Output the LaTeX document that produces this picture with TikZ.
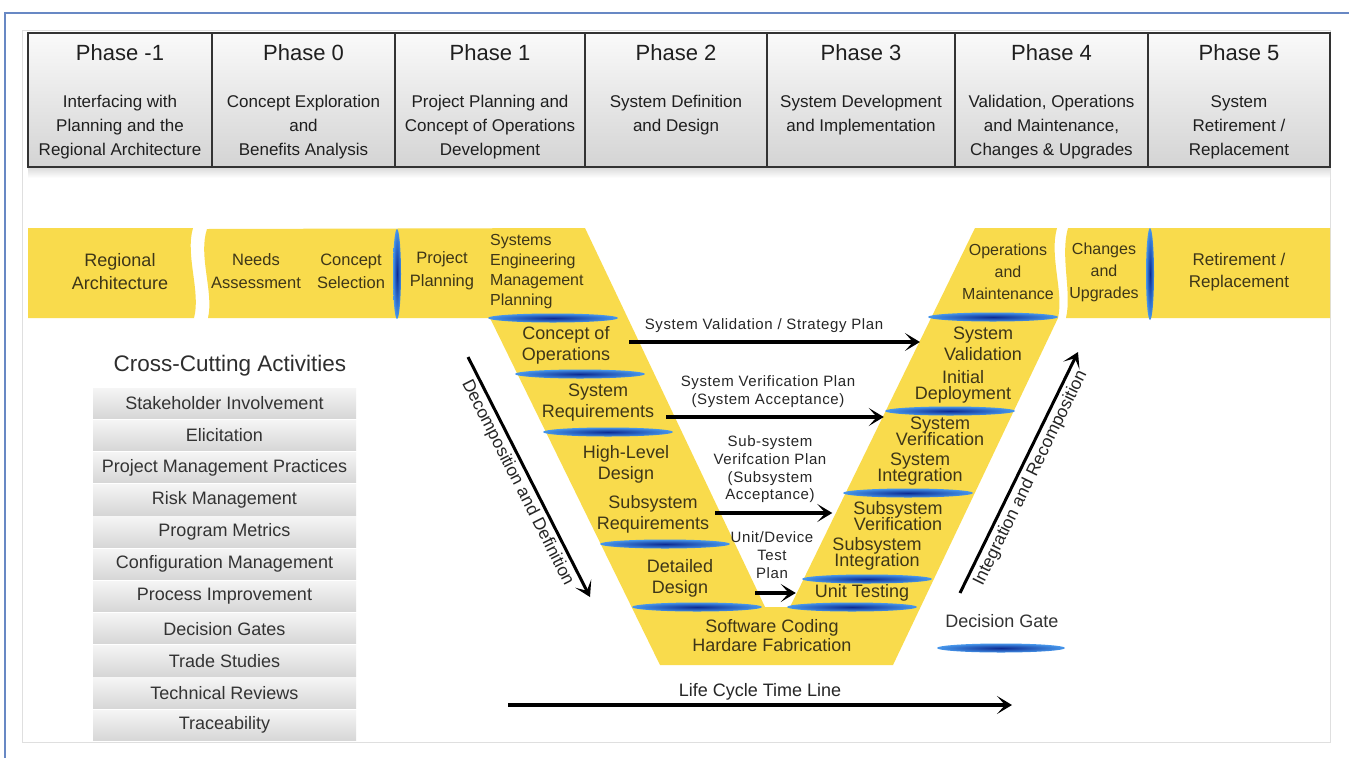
\documentclass[tikz,border=0pt]{standalone}
\usepackage{fontspec}
\setmainfont{Liberation Sans}
\newfontfamily\planfont[LetterSpace=4]{Liberation Sans}
\usetikzlibrary{arrows.meta}
\definecolor{vyellow}{RGB}{249,219,76}
\definecolor{vbrown}{RGB}{62,54,24}
\definecolor{frameblue}{RGB}{104,136,196}
\definecolor{gatedark}{RGB}{12,42,145}
\definecolor{gatelight}{RGB}{70,150,235}
\newcommand\tightlines{\lineskiplimit -20pt\relax}
\tikzset{
  phasebox/.style={draw=black!80,line width=1.8pt,top color=gray!4,bottom color=gray!34},
  phasetitle/.style={text=black!88,font=\fontsize{22}{26}\selectfont,inner sep=0pt,anchor=base},
  phasedesc/.style={text=black!88,align=center,font=\fontsize{17}{24}\selectfont,inner sep=0pt,anchor=north},
  bandtext/.style={text=vbrown,align=center,font=\fontsize{16.5}{23}\selectfont,inner sep=1pt},
  vtext/.style={text=vbrown,align=center,font=\fontsize{18}{21}\selectfont,inner sep=2pt},
  vtight/.style={vtext,font={\fontsize{18}{16}\selectfont\tightlines}},
  plantext/.style={text=black!85,align=center,font=\planfont\fontsize{15}{17.7}\selectfont,inner sep=1pt},
  flow/.style={line width=3.4pt,-{Stealth[length=15pt,width=18pt,inset=8pt]}},
  gate/.style={shading=radial,inner color=gatedark,outer color=gatelight},
  ccbox/.style={top color=gray!8,bottom color=gray!32},
  cctext/.style={text=black!80,font=\fontsize{18}{20}\selectfont,inner sep=0pt}
}
\begin{document}
\begin{tikzpicture}[x=1pt,y=-1pt]
  \useasboundingbox (0,0) rectangle (1349,758);
  \fill[white] (0,0) rectangle (1349,758);
  \draw[frameblue,line width=1.5pt] (1349,13) -- (5,13) -- (5,758);
  \draw[gray!25,line width=0.8pt] (22,30) rectangle (1330,742);
  % phases
  \shade[top color=gray!30,bottom color=white] (28,167) rectangle (1330,178);
  \foreach \xl/\xr/\ph/\desc [count=\n] in {
    28/212/-1/{Interfacing with\\Planning and the\\Regional Architecture},
    212/395/0/{Concept Exploration\\and\\Benefits Analysis},
    395/585/1/{Project Planning and\\Concept of Operations\\Development},
    585/767/2/{System Definition\\and Design},
    767/955/3/{System Development\\and Implementation},
    955/1148/4/{Validation, Operations\\and Maintenance,\\Changes \& Upgrades},
    1148/1330/5/{System\\Retirement /\\Replacement}}{
    \draw[phasebox] (\xl,33) rectangle (\xr,167);
    \node[phasetitle] (ph\n) at ({(\xl+\xr)/2},60) {Phase \ph};
    \node[phasedesc] (pd\n) at ({(\xl+\xr)/2},95) {\desc};
  }
  % yellow band and V
  \fill[vyellow] (28,228) -- (193,228) .. controls (185,255) and (201,292) .. (194,318) -- (28,318) -- cycle;
  \fill[vyellow] (207,229) -- (585,228) -- (765,607) -- (790,607) -- (975,228) -- (1057,228)
    .. controls (1049,256) and (1064,292) .. (1058,318) -- (893,665) -- (660,665) -- (490,318) -- (208,318)
    .. controls (214,292) and (198,256) .. (207,229) -- cycle;
  \fill[vyellow] (1068,228) -- (1330,228) -- (1330,318) -- (1066,318) .. controls (1072,292) and (1060,256) .. (1068,228) -- cycle;
  % decision gates
  \foreach \gx/\gy in {553/318, 580/374, 608/432, 665/544, 697/607, 852/607, 867/579, 908/493, 950/411, 993/317}
    \shade[gate] (\gx,\gy) ellipse [x radius=65, y radius=4.5];
  \shade[gate] (397,274) ellipse [x radius=4, y radius=45];
  \shade[gate] (1150,274) ellipse [x radius=4, y radius=46];
  \shade[gate] (1001,648) ellipse [x radius=64, y radius=4.5];
  \node[bandtext,font=\fontsize{18}{23}\selectfont] (regarch) at (120,272) {Regional\\Architecture};
  \node[bandtext] (needs) at (256,271) {Needs\\Assessment};
  \node[bandtext] (csel) at (351,271) {Concept\\Selection};
  \node[bandtext] (pplan) at (442,271) {Project\\Planning};
  \node[bandtext,align=left,anchor=west,font=\fontsize{16}{20}\selectfont] (semp) at (489,272) {Systems\\Engineering\\Management\\Planning};
  \node[vtext] (conops) at (566,345) {Concept of\\Operations};
  \node[vtext] (sysreq) at (598,403) {System\\Requirements};
  \node[vtext] (hld) at (626,464) {High-Level\\Design};
  \node[vtext] (subreq) at (653,514) {Subsystem\\Requirements};
  \node[vtext] (detdes) at (680,578) {Detailed\\Design};
  \node[vtext,font=\fontsize{18}{19}\selectfont] (coding) at (772,636) {Software Coding\\Hardare Fabrication};
  \node[vtext] (unittest) at (862,593) {Unit Testing};
  \node[vtight] (subint) at (877,554) {Subsystem\\Integration};
  \node[vtight] (subver) at (898,516) {Subsystem\\Verification};
  \node[vtight] (sysint) at (920,469) {System\\Integration};
  \node[vtight] (sysver) at (940,431) {System\\Verification};
  \node[vtight] (initdep) at (963,387) {Initial\\Deployment};
  \node[vtext] (sysval) at (983,344) {System\\Validation};
  \node[bandtext,font=\fontsize{16}{22}\selectfont] (opsmaint) at (1008,272) {Operations\\and\\Maintenance};
  \node[bandtext,font=\fontsize{16}{22}\selectfont] (changes) at (1104,272) {Changes\\and\\Upgrades};
  \node[bandtext,font=\fontsize{17}{22}\selectfont] (retire) at (1239,272) {Retirement /\\Replacement};
  % plans across the V
  \node[plantext] (valplan) at (764,326) {System Validation / Strategy Plan};
  \node[plantext] (verplan) at (768,391.5) {System Verification Plan\\(System Acceptance)};
  \node[plantext] (subplan) at (770,469.5) {Sub-system\\Verifcation Plan\\(Subsystem\\Acceptance)};
  \node[plantext] (unitplan) at (772,555) {Unit/Device\\Test\\Plan};
  \draw[flow,shorten <=17pt,shorten >=22pt] (conops.east |- 0,342) -- (sysval.west |- 0,342);
  \draw[flow,shorten <=10pt,shorten >=10pt] (sysreq.east |- 0,417) -- (sysver.west |- 0,417);
  \draw[flow,shorten <=4pt,shorten >=19pt] (subreq.east |- 0,513) -- (subver.west |- 0,513);
  \draw[flow,shorten <=40pt,shorten >=17pt] (detdes.east |- 0,593) -- (unittest.west |- 0,593);
  % side arrows
  \coordinate (dtop) at (468,357);
  \coordinate (dbot) at (590,597);
  \draw[flow,line width=3pt] (dtop) -- node[sloped,below,text=black!85,font=\fontsize{17.5}{20}\selectfont] (decomp) {Decomposition and Definition} (dbot);
  \coordinate (ibot) at (960,593);
  \coordinate (itop) at (1078,352);
  \draw[flow,line width=3pt] (ibot) -- node[sloped,below,text=black!85,font=\fontsize{17.5}{20}\selectfont] (integ) {Integration and Recomposition} (itop);
  \coordinate (tstart) at (508,705);
  \coordinate (tend) at (1012,705);
  \draw[flow] (tstart) -- node[above,text=black!85,font=\fontsize{18}{20}\selectfont] (tline) {Life Cycle Time Line} (tend);
  \node[cctext] (gatelbl) at (1002,621) {Decision Gate};
  % cross-cutting activities
  \node[text=black!82,font=\fontsize{22.5}{26}\selectfont] (cctitle) at (230,366) {Cross-Cutting Activities};
  \foreach \act [count=\i from 0] in {Stakeholder Involvement, Elicitation, Project Management Practices,
    Risk Management, Program Metrics, Configuration Management, Process Improvement,
    Decision Gates, Trade Studies, Technical Reviews, Traceability}{
    \shade[ccbox] (93,{388+32.2*\i}) rectangle (356,{418.5+32.2*\i});
    \node[cctext] (cc\i) at (224.5,{403.3+32.2*\i}) {\act};
  }
\end{tikzpicture}
\end{document}
